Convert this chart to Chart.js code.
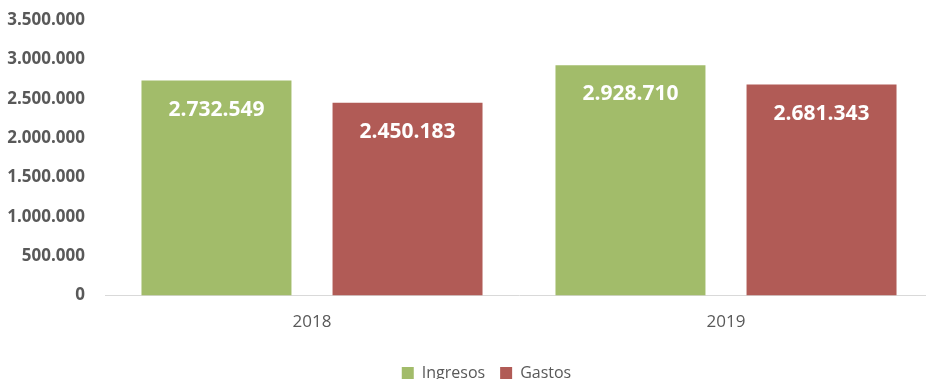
<!DOCTYPE html>
<html>
<head>
<meta charset="utf-8">
<script src="https://cdn.jsdelivr.net/npm/chart.js@4/dist/chart.umd.min.js"></script>
<style>
  html, body { margin: 0; padding: 0; background: #fff; }
  #wrap { width: 926px; height: 379px; overflow: hidden; }
  #box { width: 940px; height: 393px; margin-top: -2px; position: relative; }
</style>
</head>
<body>
<div id="wrap"><div id="box"><canvas id="finChart"></canvas></div></div>
<script>
const years = ['2018', '2019'];
const ingresos = [2732549, 2928710];
const gastos = [2450183, 2681343];
const yTicks = [0, 500000, 1000000, 1500000, 2000000, 2500000, 3000000, 3500000];

const fontFamily = '"Open Sans", "Liberation Sans", sans-serif';

function fmt(n) {
    return String(n).replace(/\B(?=(\d{3})+(?!\d))/g, '.');
}

// white value labels inside the top of each bar
const barLabels = {
    id: 'barLabels',
    afterDatasetsDraw(chart) {
        const ctx = chart.ctx;
        ctx.save();
        ctx.fillStyle = '#ffffff';
        ctx.font = 'bold 21px ' + fontFamily;
        ctx.textAlign = 'center';
        ctx.textBaseline = 'middle';
        chart.data.datasets.forEach((ds, i) => {
            chart.getDatasetMeta(i).data.forEach((bar, j) => {
                ctx.fillText(fmt(ds.data[j]), bar.x, bar.y + 29);
            });
        });
        ctx.restore();
    }
};

// nudge the legend a little to the right of centre
const legendShift = {
    id: 'legendShift',
    afterLayout(chart) {
        const lg = chart.legend;
        if (!lg) return;
        lg.left += 20;
        lg.right += 20;
    }
};

function initChart() {
    const ctx = document.getElementById('finChart')?.getContext('2d');
    if (!ctx) return;

    new Chart(ctx, {
        type: 'bar',
        data: {
            labels: years,
            datasets: [{
                label: 'Ingresos',
                data: ingresos,
                backgroundColor: '#a2bc6a'
            }, {
                label: 'Gastos',
                data: gastos,
                backgroundColor: '#b15b56'
            }]
        },
        options: {
            responsive: true,
            maintainAspectRatio: false,
            animation: false,
            layout: { padding: { top: 4, right: 7, left: 0, bottom: 0 } },
            datasets: {
                bar: { categoryPercentage: 0.923, barPercentage: 0.785 }
            },
            scales: {
                x: {
                    afterFit: (scale) => { scale.height += 10; },
                    grid: { display: false },
                    border: { color: '#d9d9d9', width: 1 },
                    ticks: {
                        color: '#595959',
                        font: { family: fontFamily, size: 17 },
                        padding: 8
                    }
                },
                y: {
                    min: 0,
                    max: 3500000,
                    afterBuildTicks: (scale) => { scale.ticks = yTicks.map(v => ({ value: v })); },
                    afterFit: (scale) => { scale.width = 105; },
                    grid: { display: false },
                    border: { display: false },
                    ticks: {
                        color: '#595959',
                        font: { family: fontFamily, size: 17, weight: 'bold' },
                        padding: 12,
                        callback: (v) => fmt(v)
                    }
                }
            },
            plugins: {
                legend: {
                    position: 'bottom',
                    labels: {
                        boxWidth: 12,
                        boxHeight: 12,
                        padding: 15,
                        color: '#595959',
                        font: { family: fontFamily, size: 16 }
                    }
                },
                tooltip: { enabled: false }
            }
        },
        plugins: [barLabels, legendShift]
    });
}

document.addEventListener('DOMContentLoaded', () => {
    initChart();
});
</script>
</body>
</html>
